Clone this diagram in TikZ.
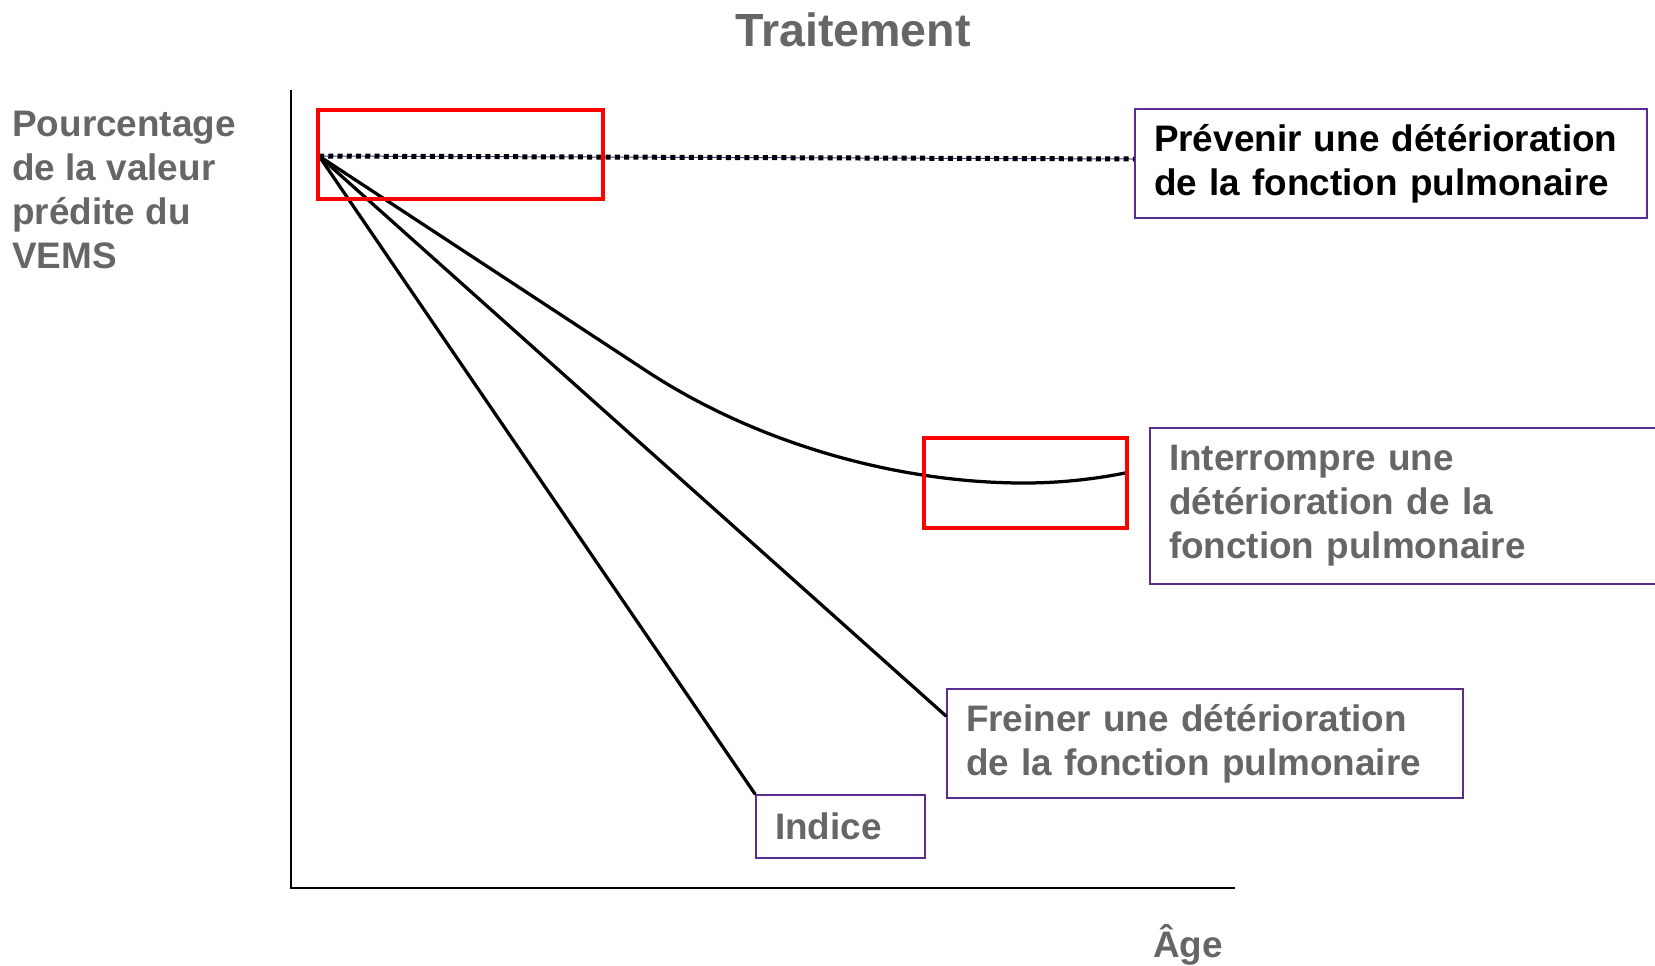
\documentclass[tikz,border=0pt]{standalone}
\usepackage{fontspec}
\setmainfont{Liberation Sans}
\usetikzlibrary{positioning}
\definecolor{textgray}{HTML}{666666}
\definecolor{boxpurple}{HTML}{5A2D91}
\newcommand{\unitPx}{0.02cm}
\newcommand{\labelFont}{\bfseries\fontsize{21}{25}\selectfont}
\newcommand{\titleFont}{\bfseries\fontsize{26.5}{30}\selectfont}

\begin{document}
\begin{tikzpicture}[x=0.02cm, y=-0.02cm,
      infobox/.style={draw=boxpurple, line width=0.04cm, anchor=north west,
         align=left, inner xsep=0.38cm, inner ysep=0pt, font=\labelFont, text=textgray},
      redbox/.style={draw=red, line width=0.07cm},
      trend/.style={line width=0.065cm, line cap=round}]
         \useasboundingbox (0,0) rectangle (1655,965);
         \clip (0,0) rectangle (1655,965);

         % axes
         \coordinate (ytop) at (291,90);
         \coordinate (xend) at (1235,888);
         \draw[line width=0.055cm] (ytop) |- (xend);

         \node (titre) [font=\titleFont, text=textgray] at (853,30) {Traitement};
         \node (ylabel) [anchor=west, align=left, inner sep=0pt, font=\bfseries\fontsize{21}{25}\selectfont, text=textgray]
            at (12,190) {Pourcentage\\de la valeur\\prédite du\\VEMS};
         \node (age) [anchor=base, inner sep=0pt, font=\labelFont, text=textgray] at (1188,957) {Âge};

         % label boxes
         \node (prevenir) [infobox, text=black, text width=474*\unitPx, minimum height=109*\unitPx]
            at (1134,108) {Prévenir une détérioration\\de la fonction pulmonaire};
         \node (interrompre) [infobox, text width=482*\unitPx, minimum height=156*\unitPx]
            at (1149,427) {Interrompre une\\détérioration de la\\fonction pulmonaire};
         \node (freiner) [infobox, text width=478*\unitPx, minimum height=109*\unitPx]
            at (946,688) {Freiner une détérioration\\de la fonction pulmonaire};
         \node (indice) [infobox, text width=131*\unitPx, minimum height=63*\unitPx]
            at (755,794) {Indice};

         % curves
         \coordinate (origine) at (319,156);
         \coordinate (prevEnd) at (1134,159);
         \coordinate (freinEnd) at (946,716);
         \coordinate (coude) at (648,372);
         \coordinate (creux) at (1024,483);
         \coordinate (stopEnd) at (1125,473);

         \draw[boxpurple, line width=0.02cm] (origine) -- (prevEnd);
         \draw[line width=0.1cm, dash pattern=on 0.1cm off 0.085cm] (origine) -- (prevEnd);

         \draw[trend] (origine) -- (indice.north west);
         \draw[trend] (origine) -- (freinEnd);
         \draw[trend] (origine) -- (coude) .. controls (760,445) and (900,483) .. (creux)
            .. controls (1065,483) and (1100,478) .. (stopEnd);

         \draw[redbox] (318,110) rectangle (603,199);
         \draw[redbox] (924,438) rectangle (1127,528);
      \end{tikzpicture}
\end{document}
